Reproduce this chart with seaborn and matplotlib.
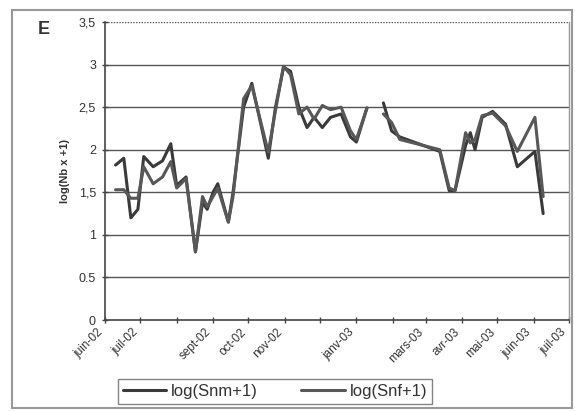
import numpy as np
import pandas as pd
import matplotlib
matplotlib.use("Agg")
import matplotlib.pyplot as plt
from matplotlib.patches import Rectangle
import seaborn as sns

# ---- data ----
dates = ["2002-06-10", "2002-06-17", "2002-06-23", "2002-06-29", "2002-07-04",
         "2002-07-12", "2002-07-20", "2002-07-27", "2002-08-01", "2002-08-09",
         "2002-08-17", "2002-08-23", "2002-08-27", "2002-09-01", "2002-09-05",
         "2002-09-14", "2002-09-18", "2002-09-27", "2002-10-04", "2002-10-18",
         "2002-10-24", "2002-10-31", "2002-11-06", "2002-11-13", "2002-11-20",
         "2002-11-26", "2002-12-03", "2002-12-10", "2002-12-19", "2002-12-27",
         "2003-01-01", "2003-01-10",
         "2003-01-24", "2003-01-31", "2003-02-07", "2003-03-13", "2003-03-21",
         "2003-03-26", "2003-04-04", "2003-04-08", "2003-04-12", "2003-04-18",
         "2003-04-27", "2003-05-08", "2003-05-18", "2003-06-02", "2003-06-09"]
segment = [0] * 32 + [1] * 15
snm = [1.82, 1.90, 1.20, 1.30, 1.92, 1.80, 1.87, 2.07, 1.58, 1.68,
       0.80, 1.38, 1.30, 1.50, 1.60, 1.15, 1.50, 2.50, 2.78, 1.90,
       2.49, 2.97, 2.92, 2.50, 2.26, 2.38, 2.26, 2.38, 2.42, 2.15,
       2.09, 2.49,
       2.55, 2.22, 2.15, 1.98, 1.52, 1.52, 2.05, 2.20, 2.00, 2.38,
       2.45, 2.30, 1.80, 1.98, 1.25]
snf = [1.53, 1.53, 1.43, 1.43, 1.80, 1.60, 1.68, 1.86, 1.55, 1.66,
       0.80, 1.45, 1.33, 1.45, 1.55, 1.15, 1.45, 2.60, 2.75, 1.97,
       2.45, 2.98, 2.88, 2.42, 2.50, 2.36, 2.52, 2.47, 2.50, 2.22,
       2.12, 2.49,
       2.42, 2.32, 2.12, 2.00, 1.55, 1.52, 2.20, 2.08, 2.12, 2.40,
       2.43, 2.28, 1.98, 2.38, 1.45]
series_names = ["log(Snm+1)", "log(Snf+1)"]
month_ticks = pd.date_range("2002-06-01", "2003-07-01", freq="MS")
month_labels = ["juin-02", "juil-02", "", "sept-02", "oct-02", "nov-02", "",
                "janv-03", "", "mars-03", "avr-03", "mai-03", "juin-03", "juil-03"]
y_ticks = [0, 0.5, 1, 1.5, 2, 2.5, 3, 3.5]
y_labels = ["0", "0.5", "1", "1,5", "2", "2,5", "3", "3,5"]

df = pd.concat([
    pd.DataFrame({"date": pd.to_datetime(dates), "val": snm, "seg": segment,
                  "serie": series_names[0]}),
    pd.DataFrame({"date": pd.to_datetime(dates), "val": snf, "seg": segment,
                  "serie": series_names[1]}),
], ignore_index=True)

sns.set_theme(style="white")
plt.rcParams["font.family"] = ["Liberation Sans", "DejaVu Sans"]

fig = plt.figure(figsize=(5.75, 4.11), dpi=100)
ax = fig.add_axes([105 / 575, 1 - 320 / 411, (569 - 105) / 575, (320 - 22) / 411])

sns.lineplot(data=df, x="date", y="val", hue="serie", units="seg",
             estimator=None, palette=["#3a3a3a", "#585858"], linewidth=2.2,
             ax=ax, legend=True, sort=False)

ax.set_xlim(pd.Timestamp("2002-06-01"), pd.Timestamp("2003-07-01"))
ax.set_ylim(0, 3.5)
ax.set_yticks(y_ticks)
ax.set_yticklabels(y_labels, fontsize=9, color="#333333")
ax.set_xticks(month_ticks)
ax.set_xticklabels(month_labels, rotation=45, ha="right",
                   fontsize=8.5, color="#333333")
ax.tick_params(axis="both", direction="inout", length=5, width=1, color="#444444",
               left=True, bottom=True, pad=4)
ax.tick_params(axis="x", pad=2)
for yv in y_ticks[1:]:
    ax.axhline(yv, color="#555555", lw=1.0, zorder=0,
               ls=(0, (1, 1)) if yv == 3.5 else "-")
for side in ["left", "bottom"]:
    ax.spines[side].set_color("#444444")
    ax.spines[side].set_linewidth(1.2)
ax.spines["top"].set_visible(False)
ax.spines["right"].set_color("#999999")
ax.spines["right"].set_linewidth(1.0)
ax.set_xlabel("")
ax.set_ylabel("log(Nb x +1)", fontsize=8, fontweight="bold", color="#333333",
              labelpad=6)

sns.move_legend(ax, "center", bbox_to_anchor=(275 / 575, 1 - 391 / 411),
                bbox_transform=fig.transFigure, ncol=2, title=None,
                frameon=True, fontsize=12, handlelength=2.6, columnspacing=2.6,
                handletextpad=0.3, borderpad=0.3, fancybox=False)
leg = ax.get_legend()
leg.get_frame().set_edgecolor("#666666")
leg.get_frame().set_linewidth(1.0)
for t in leg.get_texts():
    t.set_color("#333333")

fig.text(38 / 575, 1 - 30 / 411, "E", fontsize=13, fontweight="bold",
         color="#333333", ha="left", va="center")
fig.patches.append(Rectangle((12 / 575, 1 - 408 / 411), 560 / 575, 398 / 411,
                             transform=fig.transFigure, fill=False,
                             edgecolor="#999999", lw=1.5))

fig.savefig("out.png", dpi=100)
